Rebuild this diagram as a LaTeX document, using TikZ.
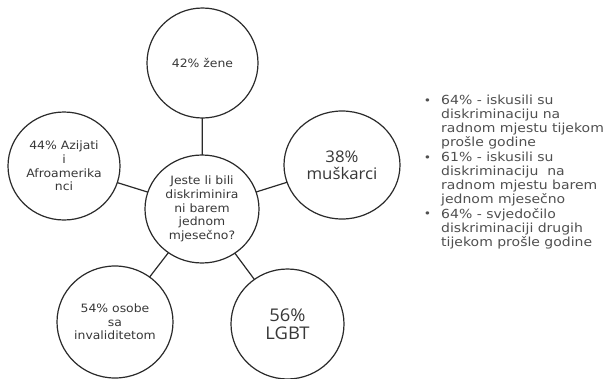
\documentclass[tikz,border=0pt]{standalone}
\usepackage{fontspec}
\setmainfont{DejaVu Sans}[FakeStretch=1.08]
\newfontfamily\bigfont{Open Sans}[FakeStretch=1.05]
\newfontfamily\listfont{DejaVu Sans}[FakeStretch=1.12]
\usetikzlibrary{shapes.geometric}
\definecolor{ink}{HTML}{2A2A2A}
\definecolor{txt}{HTML}{383838}
\definecolor{listtxt}{HTML}{505050}
\begin{document}
\begin{tikzpicture}[x=1pt,y=-1pt,
  bub/.style={ellipse, draw=ink, line width=1.2pt, fill=white, inner sep=0pt,
    align=center, text=txt, font=\fontsize{11.5}{13.7}\selectfont},
  bigtxt/.style={font=\bigfont\fontsize{16}{17}\selectfont},
  conn/.style={draw=ink, line width=1.2pt},
  item/.style={anchor=north west, inner sep=0pt, align=left, text=listtxt,
    font=\listfont\fontsize{12.5}{14}\selectfont},
  dotmark/.style={text=listtxt, inner sep=0pt, font=\listfont\fontsize{11}{12}\selectfont}]
\useasboundingbox (0,0) rectangle (610,378);
\path[clip] (0,0) rectangle (610,378);
\fill[white] (0,0) rectangle (610,378);

% connectors first (under the circles)
\coordinate (cc) at (202,209);
\coordinate (tc) at (202.5,63);
\coordinate (rc) at (342,165);
\coordinate (lc) at (64,166);
\coordinate (blc) at (115,322);
\coordinate (brc) at (287.5,324);
\draw[conn] (cc) -- (tc);
\draw[conn] (cc) -- (rc);
\draw[conn] (cc) -- (lc);
\draw[conn] (cc) -- (blc);
\draw[conn] (cc) -- (brc);

\node[bub, minimum width=114pt, minimum height=108pt] (c) at (cc)
  {Jeste li bili\\diskriminira\\ni barem\\jednom\\mjesečno?};
\node[bub, minimum width=111pt, minimum height=110pt] (t) at (tc) {42\% žene};
\node[bub, bigtxt, minimum width=116pt, minimum height=108pt] (r) at (rc) {38\%\\muškarci};
\node[bub, minimum width=112pt, minimum height=108pt] (l) at (lc)
  {44\% Azijati\\i\\Afroamerika\\nci};
\node[bub, minimum width=116pt, minimum height=112pt] (bl) at (blc)
  {54\% osobe\\sa\\invaliditetom};
\node[bub, bigtxt, font=\bigfont\fontsize{17.5}{18}\selectfont, minimum width=113pt, minimum height=110pt] (br) at (brc) {56\%\\LGBT};

% bullet list
\node[dotmark] (d1) at (427.5,102) {•};
\node[item] (i1) at (441,95)
  {64\% - iskusili su\\diskriminaciju na\\radnom mjestu tijekom\\prošle godine};
\node[dotmark] (d2) at (427.5,159) {•};
\node[item] (i2) at (441,152)
  {61\% - iskusili su\\diskriminaciju\ \ na\\radnom mjestu barem\\jednom mjesečno};
\node[dotmark] (d3) at (427.5,215) {•};
\node[item] (i3) at (441,208)
  {64\% - svjedočilo\\diskriminaciji drugih\\tijekom prošle godine};
\end{tikzpicture}
\end{document}
